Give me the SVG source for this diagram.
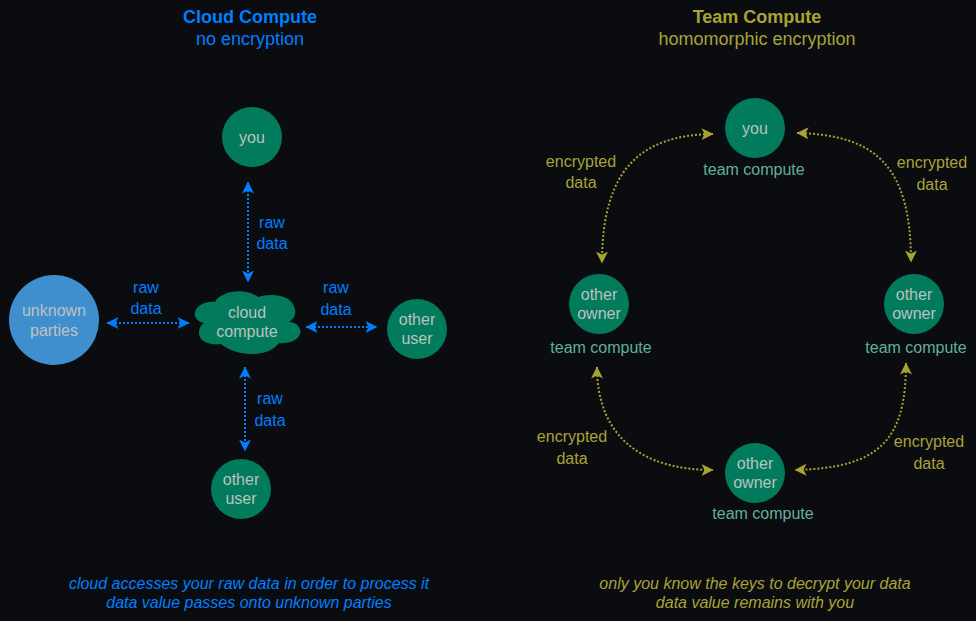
<svg xmlns="http://www.w3.org/2000/svg" width="976" height="621" viewBox="0 0 976 621">
<defs>
<marker id="b" viewBox="0 0 12 12" refX="11.5" refY="6" markerWidth="12" markerHeight="12" markerUnits="userSpaceOnUse" orient="auto-start-reverse"><path d="M0 0L12 6L0 12L3 6Z" fill="#007fff"/></marker>
<marker id="y" viewBox="0 0 12 12" refX="11.5" refY="6" markerWidth="12" markerHeight="12" markerUnits="userSpaceOnUse" orient="auto-start-reverse"><path d="M0 0L12 6L0 12L3 6Z" fill="#a9a336"/></marker>
</defs>
<style>
text{font-family:"Liberation Sans",Arial,sans-serif;font-size:16px;text-anchor:middle}
.b{fill:#007fff}.y{fill:#a9a336}.t{fill:#62ae9e}.n{fill:#bcc2bf}
.g{fill:#027a5c}
.cb{fill:none;stroke:#007fff;stroke-width:2;stroke-dasharray:2 2;marker-start:url(#b);marker-end:url(#b)}
.cy{fill:none;stroke:#a9a336;stroke-width:2;stroke-dasharray:2 2;marker-start:url(#y);marker-end:url(#y)}
.h{font-size:18px;font-weight:bold}.s{font-size:18px}.i{font-style:italic}
</style>
<rect width="976" height="621" fill="#0a0c10"/>
<g id="connectors">
<path class="cb" d="M248 182V282"/>
<path class="cb" d="M107 323H189"/>
<path class="cb" d="M306 327H377"/>
<path class="cb" d="M245 367V451"/>
<path class="cy" d="M713 134C640 135 602 170 602 263"/>
<path class="cy" d="M797 133C875 135 911 165 911 262"/>
<path class="cy" d="M597 367C597 435 640 470 713 470"/>
<path class="cy" d="M906 363C906 440 880 468 795 470"/>
</g>
<g id="title-left"><text x="250" y="23" class="b h">Cloud Compute</text><text x="250" y="45" class="b s">no encryption</text></g>
<g id="title-right"><text x="757" y="23" class="y h">Team Compute</text><text x="757" y="45" class="y s">homomorphic encryption</text></g>
<g id="you-left"><circle cx="252" cy="137" r="30" class="g"/><text x="252" y="143" class="n">you</text></g>
<g id="unknown"><circle cx="54" cy="320" r="45" fill="#3f8fce"/><text x="54" y="316" class="n">unknown</text><text x="54" y="336" class="n">parties</text></g>
<g id="cloud"><path class="g" d="M215 302C219 293 243 286 258 297C270 293 293 294 295 310C296 316 293 319 289 322C298 322 302 330 300 334C298 341 287 344 279 343C272 352 262 354 252 354C240 354 228 350 221 344C208 346 198 340 199 332C199 328 201 325 204 323C196 321 194 316 195 312C197 305 206 301 215 302Z"/><text x="247" y="318" class="n">cloud</text><text x="247" y="337" class="n">compute</text></g>
<g id="other-user-right"><circle cx="417" cy="329" r="30" class="g"/><text x="417" y="325" class="n">other</text><text x="417" y="344" class="n">user</text></g>
<g id="other-user-bottom"><circle cx="241" cy="489" r="30" class="g"/><text x="241" y="485" class="n">other</text><text x="241" y="504" class="n">user</text></g>
<g id="labels-left">
<text x="272" y="228" class="b">raw</text><text x="272" y="249" class="b">data</text>
<text x="146" y="293" class="b">raw</text><text x="146" y="314" class="b">data</text>
<text x="336" y="293" class="b">raw</text><text x="336" y="315" class="b">data</text>
<text x="270" y="404" class="b">raw</text><text x="270" y="426" class="b">data</text>
</g>
<g id="you-right"><circle cx="755" cy="128" r="30" class="g"/><text x="755" y="134" class="n">you</text><text x="754" y="175" class="t">team compute</text></g>
<g id="owner-left"><circle cx="599" cy="304" r="30" class="g"/><text x="599" y="300" class="n">other</text><text x="599" y="319" class="n">owner</text><text x="601" y="353" class="t">team compute</text></g>
<g id="owner-right"><circle cx="914" cy="304" r="30" class="g"/><text x="914" y="300" class="n">other</text><text x="914" y="319" class="n">owner</text><text x="916" y="353" class="t">team compute</text></g>
<g id="owner-bottom"><circle cx="755" cy="473" r="30" class="g"/><text x="755" y="469" class="n">other</text><text x="755" y="488" class="n">owner</text><text x="763" y="519" class="t">team compute</text></g>
<g id="labels-right">
<text x="581" y="167" class="y">encrypted</text><text x="581" y="188" class="y">data</text>
<text x="932" y="168" class="y">encrypted</text><text x="932" y="190" class="y">data</text>
<text x="572" y="442" class="y">encrypted</text><text x="572" y="464" class="y">data</text>
<text x="929" y="447" class="y">encrypted</text><text x="929" y="469" class="y">data</text>
</g>
<g id="captions">
<text x="249" y="589" class="b i">cloud accesses your raw data in order to process it</text>
<text x="249" y="608" class="b i">data value passes onto unknown parties</text>
<text x="755" y="589" class="y i">only you know the keys to decrypt your data</text>
<text x="755" y="608" class="y i">data value remains with you</text>
</g>
</svg>
